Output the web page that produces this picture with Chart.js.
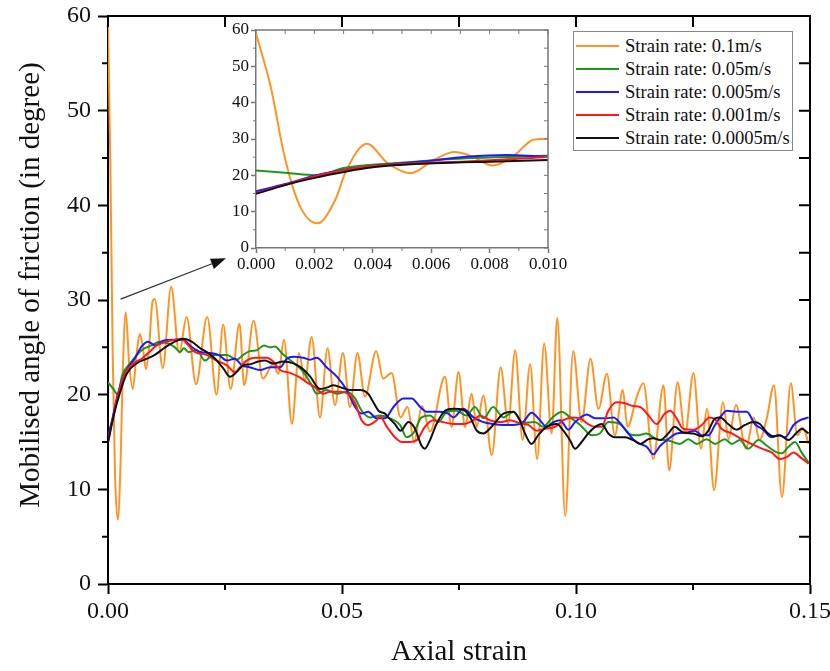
<!DOCTYPE html>
<html>
<head>
<meta charset="utf-8">
<script src="https://cdn.jsdelivr.net/npm/chart.js@4.4.1/dist/chart.umd.min.js"></script>
<style>
  html, body { margin: 0; padding: 0; background: #fff; }
  #wrap { position: relative; width: 830px; height: 671px; overflow: hidden; background: #fff; }
  #main { position: absolute; left: 0; top: 0; }
  #inset { position: absolute; left: 215px; top: 20px; }
  .legend {
    position: absolute; left: 573px; top: 31px; width: 220px; height: 120px;
    box-sizing: border-box; border: 1px solid #888; background: #fff; padding-top: 2px;
    font: 18.6px 'Liberation Serif', 'Times New Roman', serif; color: #111;
  }
  .legend .row { height: 23px; display: flex; align-items: center; white-space: nowrap; }
  .legend .sw { display: inline-block; width: 43px; height: 2px; margin: 0 6px 0 2px; }
</style>
</head>
<body>
<div id="wrap">
  <canvas id="main" width="830" height="671"></canvas>
  <canvas id="inset" width="358" height="260"></canvas>
  <div class="legend" id="legend"></div>
</div>
<script>
// ── data (axial strain, mobilised friction angle in degrees) ────────────────
const seriesLabels = [
  'Strain rate: 0.1m/s',
  'Strain rate: 0.05m/s',
  'Strain rate: 0.005m/s',
  'Strain rate: 0.001m/s',
  'Strain rate: 0.0005m/s',
];
const seriesColors = ['#ff9424', '#1e961e', '#1a1aff', '#ff1a1a', '#111111'];

const rate0p1 = [
  [0, 59.1], [0.0005, 44.5], [0.0010, 24.4], [0.0015, 11.6], [0.0021, 6.8], [0.0027, 13.0],
  [0.0031, 21.5], [0.0038, 28.7], [0.0045, 23.4], [0.0053, 20.6], [0.0061, 24.3], [0.0068, 26.4],
  [0.0074, 25.2], [0.0081, 22.7], [0.0088, 25.2], [0.0095, 29.8], [0.0100, 30.1], [0.0117, 22.8],
  [0.0135, 31.4], [0.0152, 24.4], [0.0168, 28.2], [0.0188, 21.1], [0.0212, 28.2], [0.0232, 20.0],
  [0.0246, 27.4], [0.0262, 20.6], [0.0281, 27.5], [0.0291, 21.0], [0.0311, 27.8], [0.0331, 21.7],
  [0.0353, 23.2], [0.0364, 22.2], [0.0376, 25.8], [0.0393, 16.9], [0.0408, 24.4], [0.0421, 21.5],
  [0.0435, 26.1], [0.0453, 17.6], [0.0469, 24.9], [0.0485, 18.9], [0.0502, 24.4], [0.0517, 18.7],
  [0.0533, 24.4], [0.0549, 19.8], [0.0573, 24.6], [0.0588, 21.7], [0.0606, 22.3], [0.0625, 17.6],
  [0.0640, 18.7], [0.0654, 15.0], [0.0671, 18.8], [0.0688, 16.1], [0.0720, 21.9], [0.0734, 16.6],
  [0.0749, 22.4], [0.0763, 16.6], [0.0777, 20.1], [0.0788, 16.6], [0.0802, 19.9], [0.0820, 13.6],
  [0.0839, 22.9], [0.0855, 16.9], [0.0870, 24.7], [0.0886, 15.2], [0.0902, 23.2], [0.0917, 13.2],
  [0.0932, 25.4], [0.0948, 15.9], [0.0960, 28.1], [0.0977, 7.2], [0.0994, 24.6], [0.1012, 17.1],
  [0.1031, 23.8], [0.1048, 18.5], [0.1066, 22.2], [0.1083, 15.7], [0.1100, 20.5], [0.1110, 16.6],
  [0.1130, 19.8], [0.1144, 21.2], [0.1165, 13.2], [0.1187, 21.0], [0.1199, 12.0], [0.1217, 21.3],
  [0.1233, 15.9], [0.1251, 22.3], [0.1267, 14.3], [0.1280, 18.5], [0.1295, 9.9], [0.1314, 19.2],
  [0.1326, 15.3], [0.1342, 18.9], [0.1363, 14.3], [0.1380, 17.6], [0.1392, 15.2], [0.1408, 17.6],
  [0.1423, 21.0], [0.1440, 9.2], [0.1459, 21.2], [0.1473, 15.7], [0.1485, 16.5], [0.1497, 14.8],
];

const rate0p05 = [
  [0, 21.3], [0.0010, 20.7], [0.0021, 20.0], [0.0030, 22.0], [0.0047, 23.3], [0.0072, 24.7],
  [0.0093, 25.2], [0.0110, 25.6], [0.0129, 25.4], [0.0143, 25.0], [0.0154, 24.5], [0.0162, 24.9],
  [0.0172, 24.5], [0.0190, 24.7], [0.0207, 23.6], [0.0225, 24.2], [0.0254, 24.2], [0.0275, 23.7],
  [0.0289, 24.2], [0.0303, 24.6], [0.0318, 24.7], [0.0333, 25.2], [0.0346, 25.0], [0.0357, 25.1],
  [0.0371, 24.4], [0.0393, 23.5], [0.0414, 22.6], [0.0432, 21.3], [0.0446, 20.1], [0.0467, 20.5],
  [0.0489, 20.1], [0.0510, 20.3], [0.0528, 19.6], [0.0542, 18.3], [0.0560, 17.6], [0.0581, 17.8],
  [0.0603, 17.5], [0.0624, 16.8], [0.0638, 15.5], [0.0652, 15.9], [0.0670, 17.6], [0.0688, 17.8],
  [0.0706, 17.1], [0.0724, 18.2], [0.0745, 18.3], [0.0766, 17.8], [0.0784, 18.7], [0.0802, 17.5],
  [0.0823, 18.7], [0.0845, 17.6], [0.0866, 18.2], [0.0887, 17.0], [0.0912, 17.1], [0.0930, 16.6],
  [0.0948, 17.5], [0.0970, 18.2], [0.0987, 17.6], [0.1009, 16.8], [0.1034, 15.7], [0.1051, 15.9],
  [0.1069, 17.1], [0.1094, 16.9], [0.1112, 15.9], [0.1130, 15.7], [0.1151, 15.9], [0.1172, 15.3],
  [0.1190, 15.2], [0.1201, 15.1], [0.1222, 14.8], [0.1240, 15.3], [0.1258, 14.8], [0.1279, 15.3],
  [0.1297, 14.8], [0.1318, 15.3], [0.1333, 14.8], [0.1350, 15.2], [0.1368, 14.3], [0.1390, 15.2],
  [0.1408, 14.6], [0.1429, 13.9], [0.1440, 13.8], [0.1454, 14.5], [0.1468, 15.0], [0.1482, 13.9],
  [0.1497, 12.8],
];

const rate0p005 = [
  [0, 15.6], [0.0010, 17.6], [0.0021, 20.1], [0.0033, 21.9], [0.0045, 23.0], [0.0057, 23.8],
  [0.0072, 25.1], [0.0086, 25.6], [0.0100, 25.2], [0.0118, 25.7], [0.0140, 25.8], [0.0161, 25.8],
  [0.0175, 25.2], [0.0197, 24.5], [0.0218, 24.4], [0.0236, 24.2], [0.0254, 23.6], [0.0271, 23.8],
  [0.0286, 23.1], [0.0303, 22.9], [0.0325, 22.6], [0.0346, 22.9], [0.0368, 22.9], [0.0382, 23.8],
  [0.0396, 24.0], [0.0417, 23.9], [0.0432, 23.7], [0.0446, 23.9], [0.0467, 22.9], [0.0489, 21.9],
  [0.0510, 20.5], [0.0528, 18.7], [0.0542, 18.0], [0.0556, 18.2], [0.0574, 17.5], [0.0592, 17.5],
  [0.0610, 18.7], [0.0631, 19.6], [0.0649, 19.6], [0.0667, 18.7], [0.0681, 18.2], [0.0709, 18.2],
  [0.0727, 18.0], [0.0738, 17.6], [0.0759, 18.5], [0.0781, 17.6], [0.0802, 17.1], [0.0823, 16.9],
  [0.0845, 16.8], [0.0866, 16.8], [0.0887, 17.1], [0.0905, 18.1], [0.0923, 17.3], [0.0937, 16.6],
  [0.0952, 17.1], [0.0966, 17.3], [0.0984, 16.3], [0.0998, 17.1], [0.1023, 17.9], [0.1041, 17.5],
  [0.1066, 17.5], [0.1080, 17.6], [0.1101, 16.6], [0.1122, 15.3], [0.1137, 14.8], [0.1151, 14.5],
  [0.1165, 13.7], [0.1180, 14.6], [0.1197, 15.3], [0.1215, 15.9], [0.1237, 16.0], [0.1254, 16.2],
  [0.1269, 15.7], [0.1283, 15.7], [0.1297, 16.8], [0.1311, 17.8], [0.1322, 18.3], [0.1343, 18.2],
  [0.1365, 18.2], [0.1382, 16.9], [0.1400, 16.3], [0.1418, 15.5], [0.1433, 15.7], [0.1447, 15.5],
  [0.1465, 16.8], [0.1479, 17.3], [0.1497, 17.6],
];

const rate0p001 = [
  [0, 15.1], [0.0010, 17.4], [0.0021, 19.9], [0.0036, 22.2], [0.0054, 23.3], [0.0072, 23.8],
  [0.0086, 24.4], [0.0104, 25.2], [0.0125, 25.6], [0.0143, 25.8], [0.0157, 25.9], [0.0168, 25.4],
  [0.0186, 24.5], [0.0211, 24.2], [0.0232, 23.6], [0.0254, 23.1], [0.0271, 22.4], [0.0282, 22.9],
  [0.0296, 23.6], [0.0314, 23.9], [0.0339, 23.9], [0.0353, 23.5], [0.0368, 22.6], [0.0389, 22.3],
  [0.0407, 21.9], [0.0425, 21.3], [0.0442, 20.8], [0.0460, 20.1], [0.0474, 20.3], [0.0496, 20.3],
  [0.0513, 20.1], [0.0528, 19.1], [0.0542, 17.3], [0.0556, 16.8], [0.0574, 17.3], [0.0581, 17.7],
  [0.0596, 16.6], [0.0613, 15.5], [0.0628, 15.0], [0.0645, 15.0], [0.0660, 15.2], [0.0677, 16.6],
  [0.0695, 17.3], [0.0716, 17.1], [0.0738, 16.9], [0.0759, 16.9], [0.0781, 17.3], [0.0795, 17.8],
  [0.0816, 17.3], [0.0838, 17.1], [0.0859, 17.3], [0.0880, 17.0], [0.0898, 16.8], [0.0916, 16.2],
  [0.0934, 16.4], [0.0955, 16.6], [0.0973, 17.3], [0.0991, 17.6], [0.1009, 17.5], [0.1026, 16.9],
  [0.1041, 16.6], [0.1055, 16.6], [0.1069, 18.3], [0.1087, 19.2], [0.1105, 19.1], [0.1122, 18.8],
  [0.1137, 18.7], [0.1155, 17.8], [0.1172, 16.9], [0.1190, 18.0], [0.1201, 18.3], [0.1215, 17.5],
  [0.1229, 16.4], [0.1251, 16.3], [0.1269, 16.8], [0.1285, 17.6], [0.1297, 17.4], [0.1311, 16.4],
  [0.1333, 15.9], [0.1354, 15.3], [0.1375, 14.8], [0.1397, 14.3], [0.1418, 13.9], [0.1436, 13.2],
  [0.1450, 13.4], [0.1465, 13.9], [0.1479, 13.4], [0.1497, 12.7],
];

const rate0p0005 = [
  [0, 14.9], [0.0010, 17.3], [0.0019, 19.1], [0.0040, 22.2], [0.0061, 23.3], [0.0083, 23.8],
  [0.0100, 24.2], [0.0122, 25.0], [0.0143, 25.6], [0.0161, 25.9], [0.0179, 25.6], [0.0197, 24.9],
  [0.0211, 24.5], [0.0229, 23.8], [0.0246, 22.8], [0.0261, 21.9], [0.0275, 22.4], [0.0289, 23.1],
  [0.0303, 23.2], [0.0321, 23.5], [0.0335, 23.6], [0.0353, 23.3], [0.0375, 23.5], [0.0396, 23.3],
  [0.0414, 22.8], [0.0432, 21.9], [0.0453, 20.6], [0.0471, 20.8], [0.0481, 21.0], [0.0496, 20.8],
  [0.0517, 20.5], [0.0538, 20.5], [0.0556, 20.1], [0.0567, 19.2], [0.0578, 18.3], [0.0592, 18.0],
  [0.0599, 17.6], [0.0613, 16.9], [0.0625, 16.2], [0.0642, 17.1], [0.0656, 16.4], [0.0670, 14.6],
  [0.0677, 14.3], [0.0688, 15.2], [0.0702, 16.9], [0.0720, 18.3], [0.0738, 18.5], [0.0759, 18.4],
  [0.0774, 17.6], [0.0788, 16.2], [0.0802, 15.9], [0.0823, 16.8], [0.0845, 18.0], [0.0866, 18.2],
  [0.0880, 17.3], [0.0891, 15.9], [0.0905, 14.8], [0.0919, 15.7], [0.0937, 16.6], [0.0959, 16.9],
  [0.0973, 16.2], [0.0987, 15.2], [0.0998, 14.3], [0.1012, 15.0], [0.1026, 15.9], [0.1041, 16.6],
  [0.1055, 16.9], [0.1069, 15.9], [0.1083, 15.5], [0.1105, 15.5], [0.1122, 15.2], [0.1137, 14.8],
  [0.1155, 15.3], [0.1165, 15.4], [0.1180, 15.2], [0.1197, 15.9], [0.1211, 16.6], [0.1229, 16.0],
  [0.1251, 15.9], [0.1269, 15.6], [0.1283, 16.2], [0.1297, 17.5], [0.1308, 17.6], [0.1325, 16.9],
  [0.1343, 16.3], [0.1361, 16.8], [0.1379, 17.1], [0.1393, 16.9], [0.1408, 16.0], [0.1422, 15.6],
  [0.1436, 15.7], [0.1454, 15.2], [0.1472, 16.0], [0.1482, 16.4], [0.1497, 15.9],
];

// axis ticks
const mainXTicks = [0, 0.05, 0.1, 0.15];
const mainXMinor = [0.025, 0.075, 0.125];
const mainYTicks = [0, 10, 20, 30, 40, 50, 60];
const mainYMinor = [5, 15, 25, 35, 45, 55];
const insetXTicks = [0, 0.002, 0.004, 0.006, 0.008, 0.01];
const insetXMinor = [0.001, 0.003, 0.005, 0.007, 0.009];
const insetYTicks = [0, 10, 20, 30, 40, 50, 60];
const insetYMinor = [5, 15, 25, 35, 45, 55];

const xTitle = 'Axial strain';
const yTitle = 'Mobilised angle of friction (in degree)';

// arrow from the start of the curves to the inset, in data units
const arrowFrom = [0.0027, 30.1];
const arrowTo = [0.0252, 34.4];

const serif = "'Liberation Serif', 'Times New Roman', serif";
const allSeries = [rate0p1, rate0p05, rate0p005, rate0p001, rate0p0005];

// ── helpers ──────────────────────────────────────────────────────────────────

function _datasets(width) {
  return allSeries.map((pts, i) => ({
    label: seriesLabels[i],
    data: pts.map(([x, y]) => ({ x, y })),
    borderColor: seriesColors[i],
    borderWidth: width,
    pointRadius: 0,
    fill: false,
    cubicInterpolationMode: 'monotone',
    order: allSeries.length - i, // black on top, orange underneath
  }));
}

// box frame, minor ticks and mirrored inward ticks (plus optional arrow / y title)
const framePlugin = {
  id: 'frame',
  afterDraw(chart, _args, o) {
    const { ctx, chartArea: a, scales } = chart;
    const sx = scales.x;
    const sy = scales.y;
    ctx.save();
    ctx.strokeStyle = o.color;
    ctx.lineWidth = o.width;
    ctx.beginPath();
    ctx.moveTo(a.left, a.top);
    ctx.lineTo(a.right, a.top);
    ctx.lineTo(a.right, a.bottom);
    ctx.stroke();

    ctx.lineWidth = o.tickWidth;
    ctx.beginPath();
    for (const v of o.yMinor) {
      const py = sy.getPixelForValue(v);
      ctx.moveTo(a.left - o.minorLen, py);
      ctx.lineTo(a.left, py);
    }
    for (const v of o.xMinor) {
      const px = sx.getPixelForValue(v);
      ctx.moveTo(px, a.bottom);
      ctx.lineTo(px, a.bottom + o.minorLen);
    }
    for (const v of o.yRight) {
      const py = sy.getPixelForValue(v);
      ctx.moveTo(a.right - o.inLen, py);
      ctx.lineTo(a.right, py);
    }
    for (const v of o.xTop) {
      const px = sx.getPixelForValue(v);
      ctx.moveTo(px, a.top);
      ctx.lineTo(px, a.top + o.inLen);
    }
    ctx.stroke();

    if (o.yTitle) {
      ctx.save();
      ctx.translate(o.yTitle.x, (a.top + a.bottom) / 2 + o.yTitle.dy);
      ctx.rotate(-Math.PI / 2);
      ctx.font = `${o.yTitle.size}px ${serif}`;
      ctx.fillStyle = '#111';
      ctx.textAlign = 'center';
      ctx.textBaseline = 'middle';
      ctx.fillText(o.yTitle.text, 0, 0);
      ctx.restore();
    }

    if (o.arrow) {
      const x0 = sx.getPixelForValue(o.arrow[0][0]);
      const y0 = sy.getPixelForValue(o.arrow[0][1]);
      const x1 = sx.getPixelForValue(o.arrow[1][0]);
      const y1 = sy.getPixelForValue(o.arrow[1][1]);
      const ang = Math.atan2(y1 - y0, x1 - x0);
      const len = 15;
      const half = 5.5;
      const bx = x1 - len * Math.cos(ang);
      const by = y1 - len * Math.sin(ang);
      ctx.strokeStyle = '#333';
      ctx.fillStyle = '#111';
      ctx.lineWidth = 1.3;
      ctx.beginPath();
      ctx.moveTo(x0, y0);
      ctx.lineTo(bx, by);
      ctx.stroke();
      ctx.beginPath();
      ctx.moveTo(x1, y1);
      ctx.lineTo(bx + half * Math.sin(ang), by - half * Math.cos(ang));
      ctx.lineTo(bx - half * Math.sin(ang), by + half * Math.cos(ang));
      ctx.closePath();
      ctx.fill();
    }
    ctx.restore();
  },
};

function _axis(ticks, opts) {
  return {
    type: 'linear',
    min: ticks[0],
    max: ticks[ticks.length - 1],
    afterBuildTicks: (s) => {
      s.ticks = ticks.map((v) => ({ value: v }));
    },
    afterFit: opts.fit,
    grid: {
      drawOnChartArea: false,
      drawTicks: true,
      tickLength: opts.tickLen,
      tickWidth: opts.lineW,
      tickColor: opts.lineColor,
    },
    border: { display: true, color: opts.lineColor, width: opts.lineW },
    ticks: {
      font: { family: serif, size: opts.fontSize },
      color: '#111',
      padding: opts.pad,
      maxRotation: 0,
      autoSkip: false,
      callback: opts.fmt,
    },
    title: opts.title
      ? {
          display: true,
          text: opts.title,
          font: { family: serif, size: 29 },
          color: '#111',
          padding: opts.titlePad,
        }
      : { display: false },
  };
}

// ── main chart ───────────────────────────────────────────────────────────────

new Chart(document.getElementById('main'), {
  type: 'line',
  data: { datasets: _datasets(2) },
  plugins: [framePlugin],
  options: {
    responsive: false,
    animation: false,
    events: [],
    layout: { padding: { top: 16, right: 20, left: 0, bottom: 0 } },
    plugins: {
      legend: { display: false },
      tooltip: { enabled: false },
      frame: {
        color: '#000', width: 2, tickWidth: 2, minorLen: 6, inLen: 11,
        xMinor: mainXMinor, yMinor: mainYMinor,
        yRight: [...mainYTicks, ...mainYMinor], xTop: [...mainXTicks, ...mainXMinor],
        arrow: [arrowFrom, arrowTo],
        yTitle: { text: yTitle, x: 31, dy: -15, size: 29 },
      },
    },
    scales: {
      x: _axis(mainXTicks, {
        fit: (s) => { s.height = 87; s.paddingRight = 0; s.paddingLeft = 0; },
        tickLen: 10, lineW: 2, lineColor: '#000', fontSize: 24, pad: 3,
        fmt: (v) => v.toFixed(2),
        title: xTitle, titlePad: { top: 0, bottom: 1 },
      }),
      y: _axis(mainYTicks, {
        fit: (s) => { s.width = 108; s.paddingTop = 0; s.paddingBottom = 0; },
        tickLen: 10, lineW: 2, lineColor: '#000', fontSize: 24, pad: 7,
        fmt: (v) => String(v),
      }),
    },
  },
});

// ── inset (zoom on the first 1% of strain) ──────────────────────────────────

new Chart(document.getElementById('inset'), {
  type: 'line',
  data: { datasets: _datasets(2) },
  plugins: [framePlugin],
  options: {
    responsive: false,
    animation: false,
    events: [],
    layout: { padding: { top: 10, right: 25, left: 0, bottom: 0 } },
    plugins: {
      legend: { display: false },
      tooltip: { enabled: false },
      frame: {
        color: '#777', width: 1.5, tickWidth: 1, minorLen: 3, inLen: 4,
        xMinor: insetXMinor, yMinor: insetYMinor,
        yRight: [...insetYTicks, ...insetYMinor], xTop: [...insetXTicks, ...insetXMinor],
      },
    },
    scales: {
      x: _axis(insetXTicks, {
        fit: (s) => { s.height = 32; s.paddingRight = 0; s.paddingLeft = 0; },
        tickLen: 5, lineW: 1.5, lineColor: '#777', fontSize: 17, pad: 1,
        fmt: (v) => v.toFixed(3),
      }),
      y: _axis(insetYTicks, {
        fit: (s) => { s.width = 41; s.paddingTop = 0; s.paddingBottom = 0; },
        tickLen: 5, lineW: 1.5, lineColor: '#777', fontSize: 17, pad: 2,
        fmt: (v) => String(v),
      }),
    },
  },
});

// ── legend ───────────────────────────────────────────────────────────────────

document.getElementById('legend').innerHTML = seriesLabels
  .map((t, i) => `<div class="row"><span class="sw" style="background:${seriesColors[i]}"></span>${t}</div>`)
  .join('');
</script>
</body>
</html>
